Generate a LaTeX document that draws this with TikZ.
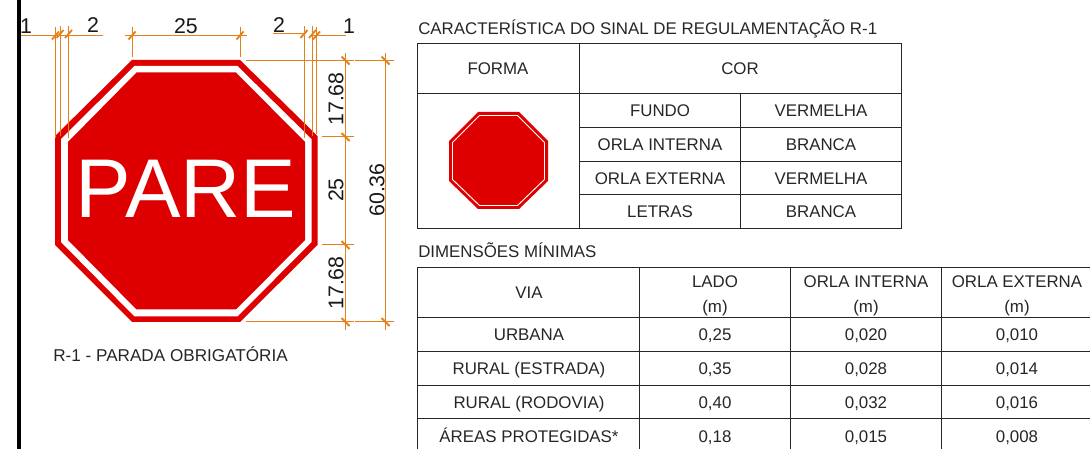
\documentclass[tikz,border=0pt]{standalone}
\usepackage{fontspec}
\setmainfont{Liberation Sans}
\definecolor{dimorange}{HTML}{E5801A}
\definecolor{signred}{HTML}{DE0000}
\tikzset{
  DimLine/.style = {draw = dimorange, line width = 0.75pt},
  DimTick/.style = {draw = dimorange, line width = 1.4pt},
  DimText/.style = {font = \fontsize{16pt}{16pt}\selectfont, text = black!90, inner sep = 0pt},
  CellText/.style = {font = \fontsize{12.65pt}{12.65pt}\selectfont, text = black!85, inner sep = 0pt, text height = 9.1pt, text depth = 0pt},
  TitleText/.style = {CellText, anchor = west},
  TableLine/.style = {draw = black!85, line width = 0.75pt}
}

\begin{document}
\begin{tikzpicture}[x=0.75pt,y=-0.75pt]
  \useasboundingbox (0,0) rectangle (1090,449);
  \fill[black] (16.8,0) rectangle (20.6,449);

  % big sign
  \fill[signred] (132,60) -- (240,60) -- (317.5,136) -- (317.5,245) -- (240,322) -- (132,322) -- (55,245) -- (55,136) -- cycle;
  \fill[white] (134.5,66) -- (237.5,66) -- (311.5,139) -- (311.5,242) -- (237.5,316.5) -- (134.5,316.5) -- (61,242) -- (61,139) -- cycle;
  \fill[signred] (136.5,72.5) -- (236,72.5) -- (305,142) -- (305,240) -- (236,309.5) -- (136.5,309.5) -- (68,240) -- (68,142) -- cycle;
  \node[text = white, inner sep = 0pt, font = \fontsize{62.5pt}{62.5pt}\selectfont] (pare) at (186,188.5) {PARE};

  % dimension points
  \coordinate (t1) at (55.5,35.5);
  \coordinate (t2) at (60,34);
  \coordinate (t3) at (68.5,34);
  \coordinate (t4) at (132,35.5);
  \coordinate (t5) at (240,35.5);
  \coordinate (t6) at (304,34);
  \coordinate (t7) at (312.5,34);
  \coordinate (t8) at (316.5,35.5);
  \coordinate (r1) at (345.5,60.5);
  \coordinate (r2) at (345.5,137);
  \coordinate (r3) at (345.5,245);
  \coordinate (r4) at (345.5,322);
  \coordinate (s1) at (385.5,60.5);
  \coordinate (s2) at (385.5,322);

  \foreach \p in {t1,t2,t3,t4,t5,t6,t7,t8}
    \draw[DimTick,shift={(\p)}] (-3.5,4) -- (3.5,-4);
  \foreach \p in {r1,r2,r3,r4,s1,s2}
    \draw[DimTick,shift={(\p)}] (-4,-4) -- (4,4);

  \draw[DimLine] (t1) ++(-35,0) -- ++(82,0);
  \draw[DimLine] (t4) ++(-7,0) -- (t5) -- ++(7,0);
  \draw[DimLine] (t6) ++(-31,0) -- ++(33,0);
  \draw[DimLine] (t8) ++(-6,0) -- ++(35,0);
  \draw[DimLine] (t1) ++(0,-8) -- ++(0,111);
  \draw[DimLine] (t2) ++(0,-8) -- ++(0,110);
  \draw[DimLine] (t3) ++(0,-8) -- ++(0,112);
  \draw[DimLine] (t4) ++(0,-8) -- ++(0,30);
  \draw[DimLine] (t5) ++(0,-8) -- ++(0,30);
  \draw[DimLine] (t6) ++(0,-8) -- ++(0,112);
  \draw[DimLine] (t7) ++(0,-8) -- ++(0,110);
  \draw[DimLine] (t8) ++(0,-8) -- ++(0,107);

  \draw[DimLine] (r1) ++(0,-7) -- (r4) -- ++(0,8);
  \draw[DimLine] (s1) ++(0,-7) -- (s2) -- ++(0,8);
  \draw[DimLine] (r1) ++(-100,0) -- ++(108,0);
  \draw[DimLine] (s1) ++(-31,0) -- ++(39,0);
  \draw[DimLine] (r2) ++(-24,0) -- ++(32,0);
  \draw[DimLine] (r3) ++(-24,0) -- ++(32,0);
  \draw[DimLine] (r4) ++(-100,0) -- ++(108,0);
  \draw[DimLine] (s2) ++(-31,0) -- ++(39,0);

  \node[DimText] (d1) at (26,26) {1};
  \node[DimText] (d2) at (93,25) {2};
  \node[DimText] (d3) at (186,26) {25};
  \node[DimText] (d4) at (279,25) {2};
  \node[DimText] (d5) at (349,26) {1};
  \node[DimText,rotate=90] (d6) at (336,99) {17.68};
  \node[DimText,rotate=90] (d7) at (336,190) {25};
  \node[DimText,rotate=90] (d8) at (336,283) {17.68};
  \node[DimText,rotate=90] (d9) at (377,190) {60.36};

  \node[TitleText,font = \fontsize{12.85pt}{12.85pt}\selectfont] (caption) at (53,355) {R-1 - PARADA OBRIGATÓRIA};
  \node[TitleText] (title1) at (418,28) {CARACTERÍSTICA DO SINAL DE REGULAMENTAÇÃO R-1};
  \node[TitleText] (title2) at (418,251) {DIMENSÕES MÍNIMAS};

  % upper table
  \draw[TableLine] (417.5,43.5) rectangle (901.5,228.5);
  \draw[TableLine] (417.5,93.5) -- (901.5,93.5);
  \draw[TableLine] (579.5,43.5) -- (579.5,228.5);
  \draw[TableLine] (740.5,93.5) -- (740.5,228.5);
  \foreach \y in {127.5,161.5,194.5}
    \draw[TableLine] (579.5,\y) -- (901.5,\y);

  % small sign
  \fill[signred] (478,112) -- (519,112) -- (548,141) -- (548,181) -- (519,209) -- (478,209) -- (449,181) -- (449,141) -- cycle;
  \draw[white, line width = 0.7pt] (479.5,115.5) -- (517.5,115.5) -- (544.5,142.5) -- (544.5,179.5) -- (517.5,205.5) -- (479.5,205.5) -- (452.5,179.5) -- (452.5,142.5) -- cycle;

  \foreach \i/\x/\y/\txt in {
    a1/498/68/FORMA, a2/740/68/COR,
    a3/660/110/FUNDO, a4/821/110/VERMELHA,
    a5/660/144/ORLA INTERNA, a6/821/144/BRANCA,
    a7/660/178/ORLA EXTERNA, a8/821/178/VERMELHA,
    a9/660/211/LETRAS, a10/821/211/BRANCA}
    \node[CellText] (\i) at (\x,\y) {\txt};

  % lower table
  \draw[TableLine] (417.5,449) -- (417.5,267.5) -- (1090,267.5);
  \foreach \y in {317.5,351.5,385.5,418.5}
    \draw[TableLine] (417.5,\y) -- (1090,\y);
  \foreach \x in {639.5,790.5,941.5}
    \draw[TableLine] (\x,267.5) -- (\x,449);

  \foreach \i/\x/\y/\txt in {
    b1/529/292/VIA, b2/715/281/LADO, b3/866/281/ORLA INTERNA, b4/1017/281/ORLA EXTERNA,
    b5/715/306/(m), b6/866/306/(m), b7/1017/306/(m),
    c1/529/334/URBANA, c2/715/334/{0,25}, c3/866/334/{0,020}, c4/1017/334/{0,010},
    c5/529/368/RURAL (ESTRADA), c6/715/368/{0,35}, c7/866/368/{0,028}, c8/1017/368/{0,014},
    c9/529/402/RURAL (RODOVIA), c10/715/402/{0,40}, c11/866/402/{0,032}, c12/1017/402/{0,016},
    c13/529/436/ÁREAS PROTEGIDAS*, c14/715/436/{0,18}, c15/866/436/{0,015}, c16/1017/436/{0,008}}
    \node[CellText] (\i) at (\x,\y) {\txt};
\end{tikzpicture}
\end{document}
